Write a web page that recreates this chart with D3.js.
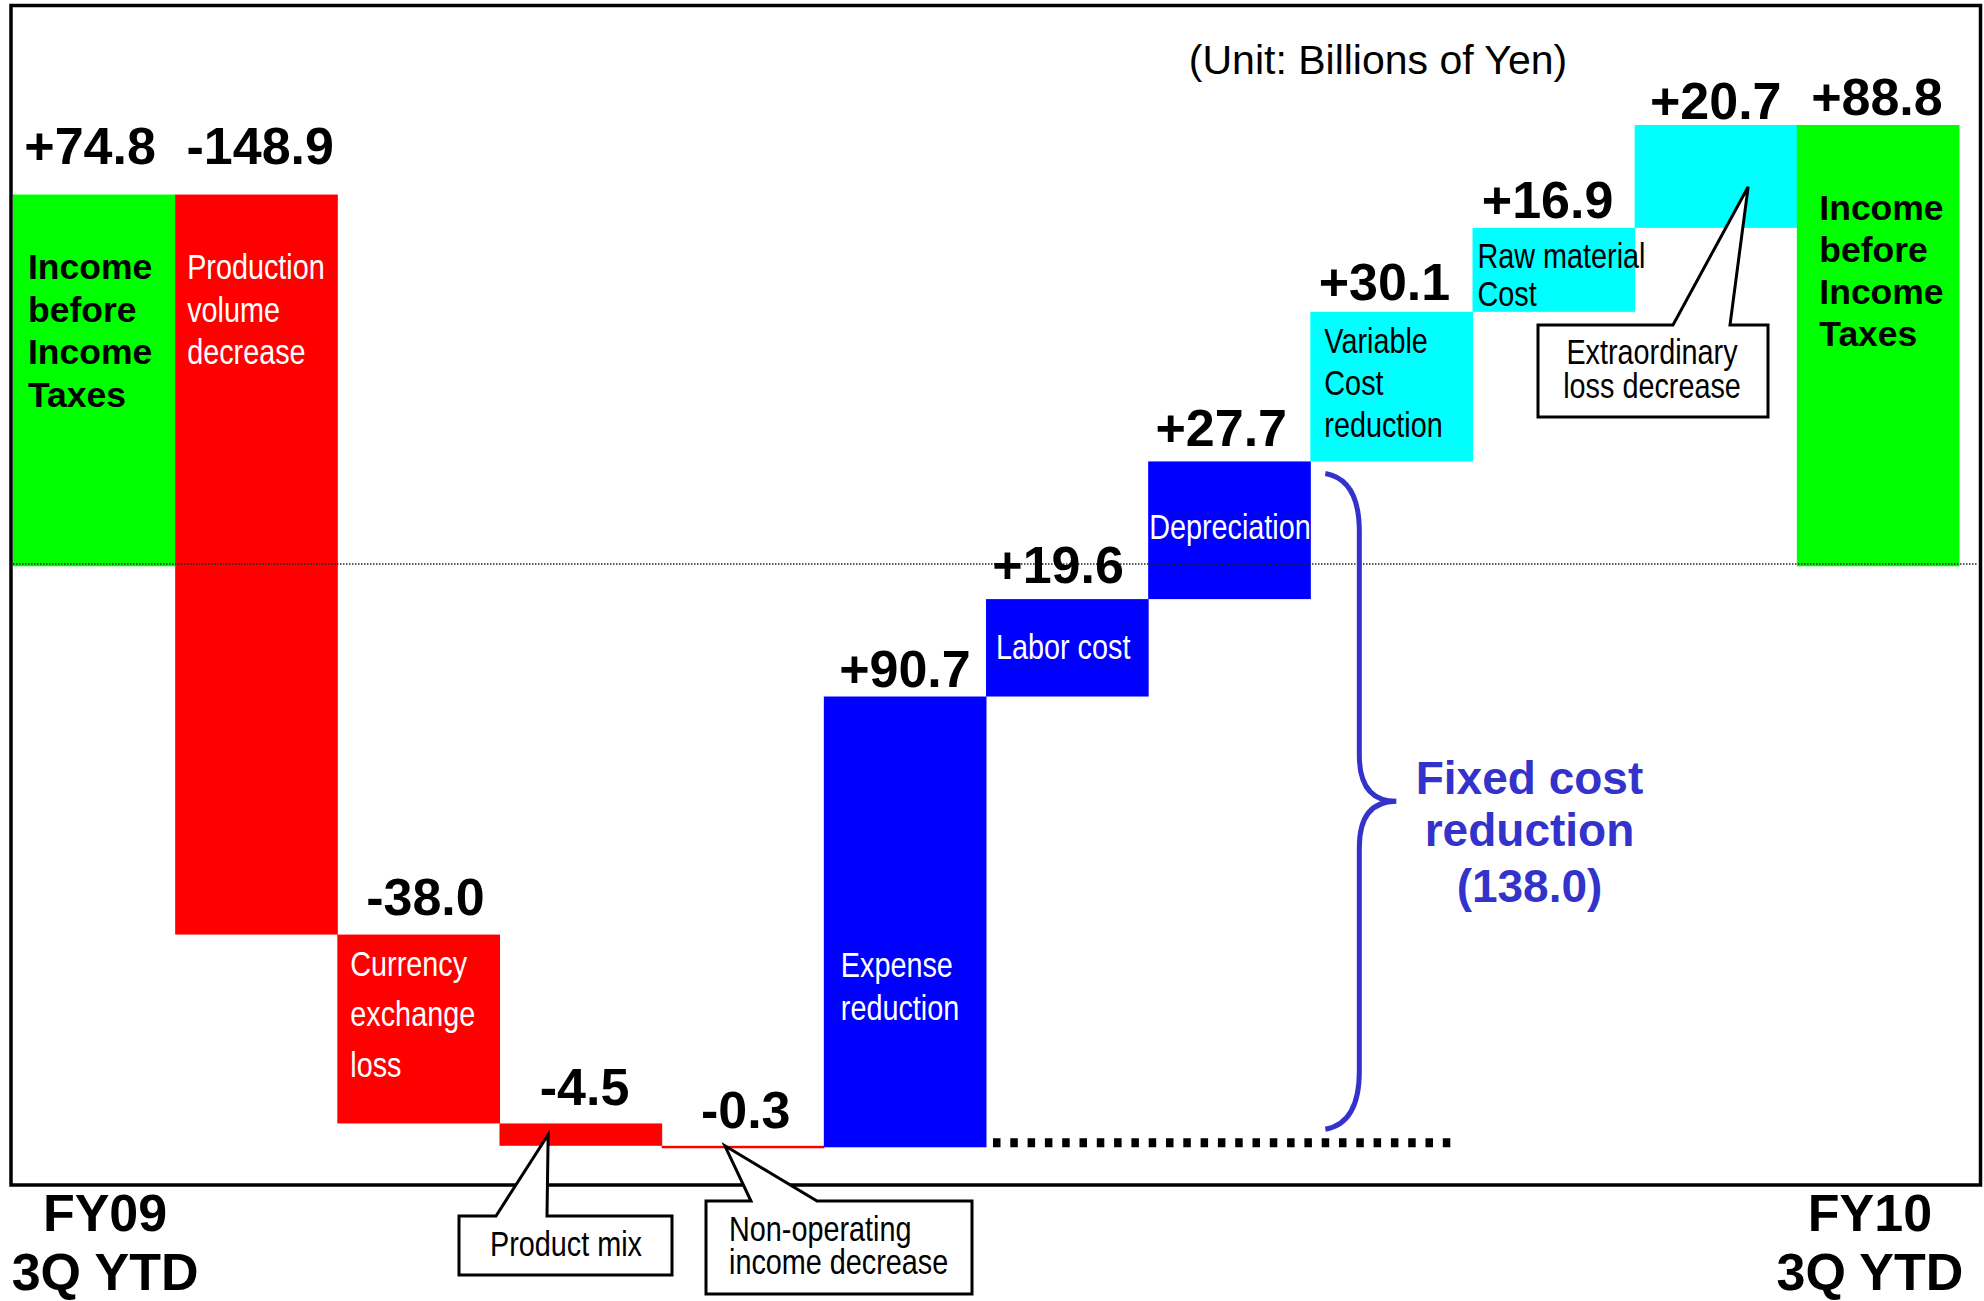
<!DOCTYPE html>
<html><head><meta charset="utf-8">
<script src="https://cdn.jsdelivr.net/npm/d3@7"></script>
<style>
body{margin:0;background:#fff}
svg{display:block}
text{font-family:"Liberation Sans",Arial,Helvetica,sans-serif}
</style>
</head><body><svg id="chart" width="1984" height="1301"></svg>
<script>
// ---------------- DATA ----------------
const categories = ["FY09 3Q YTD","Production volume decrease","Currency exchange loss","Product mix",
  "Non-operating income decrease","Expense reduction","Labor cost","Depreciation",
  "Variable Cost reduction","Raw material Cost","Extraordinary loss decrease","FY10 3Q YTD"];
const values = [74.8, -148.9, -38.0, -4.5, -0.3, 90.7, 19.6, 27.7, 30.1, 16.9, 20.7, 88.8];
const kinds = ["total","decrease","decrease","decrease","decrease","fixed","fixed","fixed",
  "variable","variable","variable","total"];
const barLabels = [["Income","before","Income","Taxes"],["Production","volume","decrease"],
  ["Currency","exchange","loss"],[],[],["Expense","reduction"],["Labor cost"],["Depreciation"],
  ["Variable","Cost","reduction"],["Raw material","Cost"],[],["Income","before","Income","Taxes"]];
const startLabel = ["FY09","3Q YTD"];
const endLabel = ["FY10","3Q YTD"];
const unitText = "(Unit: Billions of Yen)";
const fixedCostLines = ["Fixed cost","reduction","(138.0)"];
const calloutProductMix = ["Product mix"];
const calloutNonOperating = ["Non-operating","income decrease"];
const calloutExtraordinary = ["Extraordinary","loss decrease"];

// ---------------- STYLE / LAYOUT ----------------
const kindFill = {total:"#00ff00", decrease:"#ff0000", fixed:"#0000ff", variable:"#00ffff"};
const kindText = {total:"#000000", decrease:"#ffffff", fixed:"#ffffff", variable:"#000000"};
const accent = "#3333cc";
const FONT = '"Liberation Sans",Arial,Helvetica,sans-serif';
// per-bar inner label layout: dx from bar left, first baseline offset from bar top, line height
const innerLayout = [
  {dx:15, dy:84.5, lh:42.7, bold:true},
  {dx:12, dy:84.5, lh:42.5},
  {dx:13, dy:41.4, lh:50.5},
  null, null,
  {dx:17, dy:280.5, lh:43},
  {dx:10, dy:60, lh:0},
  {dx:1, dy:77.6, lh:0},
  {dx:14, dy:40.7, lh:42.3},
  {dx:5, dy:40, lh:38},
  null,
  {dx:22.5, dy:95, lh:42, bold:true}
];
// value label: x offset from band centre, baseline offset above bar top
const valueLayout = [[-4,30.5],[4,30.5],[7,19.6],[4,18.4],[3,17.8],[0,9.5],[-9,16],[-8,15.4],[-7,11.8],[-6,10],[0,6],[-1,10]];

const svg = d3.select("#chart");
const x = d3.scaleBand().domain(categories).range([13, 1959]).padding(0);
const y = d3.scaleLinear().domain([-120, 100]).range([1162.7, 69.3]);
const bw = x.bandwidth();

// waterfall computation
let cum = 0;
const bars = values.map((v,i) => {
  let y0, y1;
  if (kinds[i] === "total") { y0 = 0; y1 = v; cum = v; }
  else { y0 = cum; y1 = cum + v; cum += v; }
  return {cat:categories[i], v, kind:kinds[i], y0, y1, top:Math.max(y0,y1), bot:Math.min(y0,y1), i};
});

// bars
svg.append("g").selectAll("rect").data(bars).join("rect")
  .attr("x", d => x(d.cat))
  .attr("width", bw + 0.5)
  .attr("y", d => y(d.top))
  .attr("height", d => Math.max(2.5, y(d.bot) - y(d.top)))
  .attr("fill", d => kindFill[d.kind]);

// zero dotted line
svg.append("line")
  .attr("x1", 13).attr("x2", 1978)
  .attr("y1", y(0) - 2.3).attr("y2", y(0) - 2.3)
  .attr("stroke", "#222").attr("stroke-width", 1.3)
  .attr("stroke-dasharray", "1.5,1.5");

// frame
svg.append("rect").attr("x", 11).attr("y", 5.5).attr("width", 1969.5).attr("height", 1179.5)
  .attr("fill", "none").attr("stroke", "#000").attr("stroke-width", 3.5);

// narrow text helper
function narrowText(g, str, tx, ty, opts) {
  opts = opts || {};
  g.append("text")
    .attr("transform", `translate(${tx},${ty}) scale(0.8,1)`)
    .attr("font-size", opts.size || 36)
    .attr("fill", opts.fill || "#000")
    .attr("text-anchor", opts.anchor || "start")
    .attr("font-family", FONT)
    .text(str);
}

// inner labels
const lg = svg.append("g");
bars.forEach((d,i) => {
  const L = innerLayout[i];
  if (!L) return;
  barLabels[i].forEach((s,k) => {
    const tx = x(d.cat) + L.dx, ty = y(d.top) + L.dy + k * L.lh;
    if (L.bold) {
      lg.append("text").attr("x", tx).attr("y", ty).attr("font-size", 35.5).attr("font-weight", "bold")
        .attr("fill", kindText[d.kind]).text(s);
    } else {
      narrowText(lg, s, tx, ty, {fill: kindText[d.kind]});
    }
  });
});

// value labels
const fmt = v => (v > 0 ? "+" : "-") + Math.abs(v).toFixed(1);
svg.append("g").selectAll("text").data(bars).join("text")
  .attr("x", d => x(d.cat) + bw/2 + valueLayout[d.i][0])
  .attr("y", d => y(d.top) - valueLayout[d.i][1])
  .attr("text-anchor", "middle").attr("font-size", 52).attr("font-weight", "bold")
  .attr("fill", "#000").text(d => fmt(d.v));

// thick dotted line at the bottom level
const baseLevel = bars[4].bot;
svg.append("line")
  .attr("x1", x(categories[6]) + 7).attr("x2", x(categories[8]) + 141)
  .attr("y1", y(baseLevel) - 4.5).attr("y2", y(baseLevel) - 4.5)
  .attr("stroke", "#000").attr("stroke-width", 9)
  .attr("stroke-dasharray", "7.5,9.8");

// brace
const bTop = y(bars[7].top) + 12, bBot = y(baseLevel) - 18;
const bx = x(categories[8]) + 15, sp = bx + 34, pt = bx + 71, mid = (bTop + bBot) / 2;
svg.append("path")
  .attr("d", `M${bx},${bTop} Q${sp},${bTop+6} ${sp},${bTop+58} L${sp},${mid-46} Q${sp},${mid} ${pt},${mid} Q${sp},${mid} ${sp},${mid+46} L${sp},${bBot-58} Q${sp},${bBot-6} ${bx},${bBot}`)
  .attr("fill", "none").attr("stroke", accent).attr("stroke-width", 5);

// fixed cost text
const fcx = x(categories[9]) + 57;
[[fixedCostLines[0], -7],[fixedCostLines[1], 45],[fixedCostLines[2], 101]].forEach(([s,dy]) => {
  svg.append("text").attr("x", fcx).attr("y", mid + dy).attr("text-anchor", "middle")
    .attr("font-size", 46).attr("font-weight", "bold").attr("fill", accent).text(s);
});

// unit label
svg.append("text").attr("x", 1378).attr("y", 74).attr("text-anchor", "middle")
  .attr("font-size", 41).attr("fill", "#000").text(unitText);

// period labels
[[startLabel, x(categories[0]) + bw/2 + 11], [endLabel, x(categories[11]) + bw/2 - 8]].forEach(([lines, cx]) => {
  lines.forEach((s,k) => {
    svg.append("text").attr("x", cx).attr("y", 1231 + k*59).attr("text-anchor", "middle")
      .attr("font-size", 52).attr("font-weight", "bold").attr("fill", "#000").text(s);
  });
});

// callouts
function callout(box, baseA, baseB, tip, lines, textX, baselines, anchor) {
  const [bx0, by0, bx1, by1] = box;
  const pts = [[bx0,by0],[baseA,by0],tip,[baseB,by0],[bx1,by0],[bx1,by1],[bx0,by1]];
  svg.append("path").attr("d", "M" + pts.map(p => p.join(",")).join("L") + "Z")
    .attr("fill", "#fff").attr("stroke", "#000").attr("stroke-width", 3).attr("stroke-linejoin", "miter");
  lines.forEach((s,k) => narrowText(svg, s, textX, baselines[k], {anchor}));
}
const b4 = bars[3], b5 = bars[4], b11 = bars[10];
callout([459,1216,672,1275], 496, 547,
  [x(b4.cat) + 0.3*bw, (y(b4.top) + y(b4.bot))/2], calloutProductMix, 566, [1256], "middle");
callout([706,1201,972,1294], 751, 817,
  [x(b5.cat) + 0.39*bw, y(b5.top)], calloutNonOperating, 729, [1241,1274], "start");
callout([1538,325,1768,417], 1673, 1730,
  [x(b11.cat) + 0.7*bw, y(b11.y0 + 0.4*b11.v)], calloutExtraordinary, 1652, [364,398], "middle");
</script>
</body></html>
